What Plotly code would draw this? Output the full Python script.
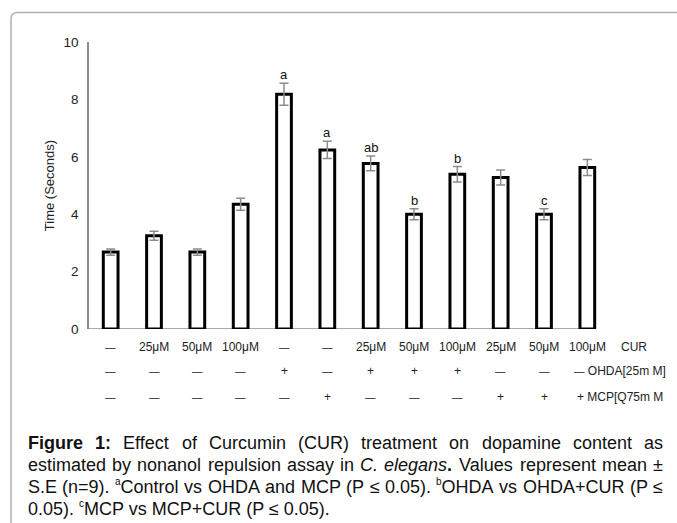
import plotly.graph_objects as go

# ---------------- data ----------------
cur_labels = ["—", "25μM", "50μM", "100μM", "—", "—", "25μM", "50μM", "100μM", "25μM", "50μM", "100μM"]
ohda_labels = ["—", "—", "—", "—", "+", "—", "+", "+", "+", "—", "—", "—"]
mcp_labels = ["—", "—", "—", "—", "—", "+", "—", "—", "—", "+", "+", "+"]
mean_time = [2.68, 3.25, 2.68, 4.35, 8.18, 6.24, 5.77, 4.00, 5.39, 5.28, 4.00, 5.63]
se_time = [0.11, 0.16, 0.11, 0.21, 0.38, 0.30, 0.26, 0.19, 0.27, 0.26, 0.19, 0.28]
sig_letters = ["", "", "", "", "a", "a", "ab", "b", "b", "", "c", ""]
y_ticks = [0, 2, 4, 6, 8, 10]

W, H = 677, 523
ML, MR, MT, MB = 89, 68, 42, 194
PW, PH = W - ML - MR, H - MT - MB
FONT = "Arial, Liberation Sans, sans-serif"


def px2x(px):
    return (px - ML) / PW


def py2y(py):
    return (H - MB - py) / PH


idx = list(range(len(mean_time)))

fig = go.Figure()
fig.add_trace(go.Bar(
    x=idx, y=mean_time, width=0.34,
    marker=dict(color="white", line=dict(color="black", width=3)),
    error_y=dict(type="data", array=se_time, visible=True,
                 color="#8c8c8c", thickness=1.5, width=4.5),
    showlegend=False, hoverinfo="skip",
))

annotations = []
# significance letters
for i, (m, e, s) in enumerate(zip(mean_time, se_time, sig_letters)):
    if s:
        annotations.append(dict(x=i, y=m + e, xref="x", yref="y", text=s,
                                showarrow=False, yanchor="bottom", borderpad=0,
                                font=dict(family=FONT, size=13, color="#111")))

ROW_Y = [347, 371, 397]
DASH_SIZE = 10.5


def add_sym(i, sym, py):
    size = DASH_SIZE if sym == "—" else 12
    annotations.append(dict(x=i, y=py2y(py), xref="x", yref="paper", text=sym,
                            showarrow=False, yanchor="middle", borderpad=0,
                            font=dict(family=FONT, size=size, color="#222")))


for i in idx:
    add_sym(i, cur_labels[i], ROW_Y[0])
    if i < len(idx) - 1:
        add_sym(i, ohda_labels[i], ROW_Y[1])
        add_sym(i, mcp_labels[i], ROW_Y[2])

# row names
annotations.append(dict(x=px2x(620), y=py2y(ROW_Y[0]), xref="paper", yref="paper", text="CUR",
                        showarrow=False, xanchor="left", yanchor="middle", borderpad=0,
                        font=dict(family=FONT, size=12, color="#222")))
annotations.append(dict(x=px2x(573), y=py2y(ROW_Y[1]), xref="paper", yref="paper",
                        text='<span style="font-size:%.1fpx">%s</span> OHDA[25m M]' % (DASH_SIZE, ohda_labels[-1]),
                        showarrow=False, xanchor="left", yanchor="middle", borderpad=0,
                        font=dict(family=FONT, size=12, color="#222")))
annotations.append(dict(x=px2x(576), y=py2y(ROW_Y[2]), xref="paper", yref="paper",
                        text=mcp_labels[-1] + " MCP[Q75m M",
                        showarrow=False, xanchor="left", yanchor="middle", borderpad=0,
                        font=dict(family=FONT, size=12, color="#222")))

# ---------------- caption (justified) ----------------
REG = {' ': 278, '!': 278, '(': 333, ')': 333, '+': 584, ',': 278, '-': 333, '.': 278,
       ':': 278, '=': 584, '≤': 549, '±': 549, '[': 278, ']': 278,
       'A': 667, 'B': 667, 'C': 722, 'D': 722, 'E': 667, 'F': 611, 'G': 778, 'H': 722,
       'I': 278, 'J': 500, 'K': 667, 'L': 556, 'M': 833, 'N': 722, 'O': 778, 'P': 667,
       'Q': 778, 'R': 722, 'S': 667, 'T': 611, 'U': 722, 'V': 667, 'W': 944, 'X': 667,
       'Y': 667, 'Z': 611, 'a': 556, 'b': 556, 'c': 500, 'd': 556, 'e': 556, 'f': 278,
       'g': 556, 'h': 556, 'i': 222, 'j': 222, 'k': 500, 'l': 222, 'm': 833, 'n': 556,
       'o': 556, 'p': 556, 'q': 556, 'r': 333, 's': 500, 't': 278, 'u': 556, 'v': 500,
       'w': 722, 'x': 500, 'y': 500, 'z': 500}
BOLD = {'F': 611, 'i': 278, 'g': 611, 'u': 611, 'r': 389, 'e': 556, ':': 333, '.': 278}

CAP_SIZE = 18
SUP_SIZE = 10


def seg_width(text, style, size):
    w = 0
    for ch in text:
        if ch.isdigit():
            w += 556
        elif style == "b":
            w += BOLD.get(ch, REG.get(ch, 556))
        else:
            w += REG.get(ch, 556)
    f = SUP_SIZE if style == "sup" else size
    return w / 1000 * f


def seg_markup(text, style):
    if style == "sup":
        return '<sup><span style="font-size:%dpx">%s</span></sup>' % (SUP_SIZE, text)
    if style in ("b", "i"):
        return "<%s>%s</%s>" % (style, text, style)
    return text


caption_lines = [
    [[("Figure", "b")], [("1:", "b")], [("Effect", "")], [("of", "")], [("Curcumin", "")],
     [("(CUR)", "")], [("treatment", "")], [("on", "")], [("dopamine", "")], [("content", "")],
     [("as", "")]],
    [[("estimated", "")], [("by", "")], [("nonanol", "")], [("repulsion", "")], [("assay", "")],
     [("in", "")], [("C.", "i")], [("elegans", "i"), (".", "b")], [("Values", "")],
     [("represent", "")], [("mean", "")], [("±", "")]],
    [[("S.E", "")], [("(n=9).", "")], [("a", "sup"), ("Control", "")], [("vs", "")], [("OHDA", "")],
     [("and", "")], [("MCP", "")], [("(P", "")], [("≤", "")], [("0.05).", "")],
     [("b", "sup"), ("OHDA", "")], [("vs", "")], [("OHDA+CUR", "")], [("(P", "")], [("≤", "")]],
]
caption_last = [("0.05).", ""), (" ", ""), ("c", "sup"), ("MCP vs MCP+CUR (P ≤ 0.05).", "")]
CAP_Y = [442.5, 464.5, 486.5, 508.5]
CAP_L, CAP_R = 27, 662

for line, py in zip(caption_lines, CAP_Y):
    widths = [sum(seg_width(t, s, CAP_SIZE) for t, s in word) for word in line]
    gap = max((CAP_R - CAP_L - sum(widths)) / (len(line) - 1), CAP_SIZE * 0.2)
    xpos = CAP_L
    for word, w in zip(line, widths):
        annotations.append(dict(x=px2x(xpos), y=py2y(py), xref="paper", yref="paper",
                                text="".join(seg_markup(t, s) for t, s in word),
                                showarrow=False, xanchor="left", yanchor="middle", borderpad=0,
                                font=dict(family=FONT, size=CAP_SIZE, color="#111")))
        xpos += w + gap
annotations.append(dict(x=px2x(CAP_L), y=py2y(CAP_Y[3]), xref="paper", yref="paper",
                        text="".join(seg_markup(t, s) for t, s in caption_last),
                        showarrow=False, xanchor="left", yanchor="middle",
                        borderpad=0, font=dict(family=FONT, size=CAP_SIZE, color="#111")))

# ---------------- shapes: x axis line + outer frame ----------------
shapes = [
    dict(type="line", xref="x", yref="y", x0=-0.5, x1=11.2, y0=0, y1=0,
         line=dict(color="#8c8c8c", width=1.5), layer="below"),
    dict(type="path", xref="paper", yref="paper",
         path="M %f,%f L %f,%f Q %f,%f %f,%f L %f,%f" % (
             px2x(11), py2y(523), px2x(11), py2y(19),
             px2x(11), py2y(12.5), px2x(17.5), py2y(12.5),
             px2x(677), py2y(12.5)),
         line=dict(color="#b0b0b0", width=1.5)),
]

fig.update_layout(
    width=W, height=H,
    margin=dict(l=ML, r=MR, t=MT, b=MB, pad=0),
    paper_bgcolor="white", plot_bgcolor="white",
    font=dict(family=FONT, size=13, color="#222"),
    annotations=annotations, shapes=shapes,
    xaxis=dict(range=[-0.5, 11.5], showticklabels=False, ticks="", showgrid=False,
               zeroline=False, showline=False, fixedrange=True),
    yaxis=dict(range=[0, 10], tickvals=y_ticks, ticks="", showgrid=False, zeroline=False,
               showline=True, linecolor="#8c8c8c", linewidth=1.5,
               ticklabelstandoff=6, tickfont=dict(size=13.5, color="#222"),
               title=dict(text="Time (Seconds)", standoff=6,
                          font=dict(size=13, color="#222"))),
    bargap=0.5,
)

fig.write_html("out.html", config={"displayModeBar": False},
               post_script="document.body.style.margin='0';document.body.style.padding='0';")
